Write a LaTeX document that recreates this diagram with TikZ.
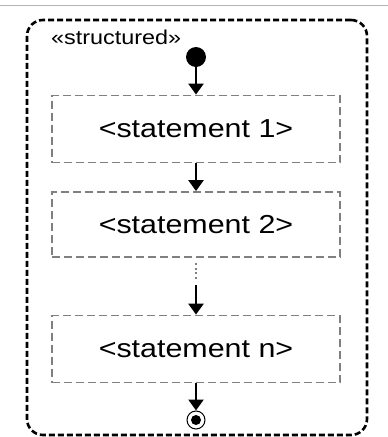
\documentclass[tikz,border=0pt]{standalone}
\usepackage{fontspec}
\setmainfont{Liberation Sans}
\usepackage{graphicx}
\usetikzlibrary{arrows.meta}
\definecolor{boxgray}{HTML}{808080}
\definecolor{rulegray}{HTML}{B4B4B4}
\newcommand{\widetext}[1]{\scalebox{1.17}[1]{#1}}

\begin{document}
\begin{tikzpicture}[x=1pt, y=-1pt,
  stmt/.style={draw=boxgray, dash pattern=on 8pt off 4pt, line width=1.8pt, minimum width=288pt, minimum height=67pt, inner sep=0pt, font=\fontsize{26}{30}\selectfont},
  flow/.style={-{Triangle[width=15pt,length=11pt]}, line width=2.4pt}]
  \useasboundingbox (0,0) rectangle (388,437);
  \draw[rulegray, line width=1pt] (0,5) -- (388,5);

  % frame of the structured node
  \node (frame) at (197,227.5) [draw, line width=2.6pt, dash pattern=on 6pt off 3pt, rounded corners=16pt, minimum width=340pt, minimum height=415pt] {};
  \node (tag) at (51,37) [anchor=west, inner sep=0pt, font=\fontsize{20}{24}\selectfont] {\widetext{«structured»}};

  \node (init) at (196,57) [circle, fill=black, minimum size=20pt, inner sep=0pt] {};
  \node (s1) at (196,129) [stmt] {\widetext{<statement 1>}};
  \node (s2) at (196,224.5) [stmt, minimum height=65pt] {\widetext{<statement 2>}};
  \node (sn) at (196,349) [stmt] {\widetext{<statement n>}};
  \node (final) at (196,420) [circle, draw, line width=1pt, minimum size=18pt, inner sep=0pt] {};
  \node (finaldot) at (final) [circle, fill=black, minimum size=10pt, inner sep=0pt] {};

  \coordinate (dotstart) at (196,263);
  \coordinate (dotend) at (196,280);
  \coordinate (resume) at (196,285);

  \draw[flow] (init) -- (s1);
  \draw[flow] (s1) -- (s2);
  \draw[boxgray, line width=1.8pt, dash pattern=on 2pt off 2.5pt] (dotstart) -- (dotend);
  \draw[flow] (resume) -- (sn);
  \draw[flow] (sn) -- (final);
\end{tikzpicture}
\end{document}
